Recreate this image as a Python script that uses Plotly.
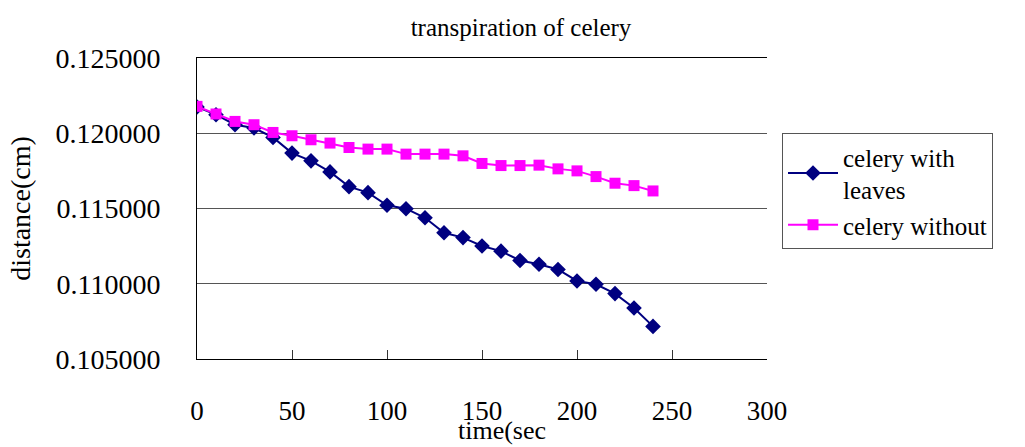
import plotly.graph_objects as go

time_sec = [0, 10, 20, 30, 40, 50, 60, 70, 80, 90, 100, 110, 120, 130, 140, 150,
            160, 170, 180, 190, 200, 210, 220, 230, 240]
with_leaves = [0.121747, 0.121233, 0.120567, 0.120347, 0.119720, 0.118680, 0.118167,
               0.117433, 0.116453, 0.116053, 0.115213, 0.114987, 0.114387, 0.113387,
               0.113067, 0.112513, 0.112167, 0.111547, 0.111300, 0.110947, 0.110187,
               0.109967, 0.109347, 0.108387, 0.107167]
without_leaves = [0.121787, 0.121280, 0.120787, 0.120567, 0.120053, 0.119833, 0.119567,
                  0.119347, 0.119053, 0.118947, 0.118947, 0.118613, 0.118613, 0.118613,
                  0.118500, 0.117993, 0.117853, 0.117853, 0.117880, 0.117633, 0.117500,
                  0.117120, 0.116680, 0.116520, 0.116167]
series_names = ["celery with<br>leaves", "celery without"]
x_title = "time(sec"

FONT = "Liberation Serif"

fig = go.Figure()
fig.add_trace(go.Scatter(
    x=time_sec, y=with_leaves, name=series_names[0], mode="lines+markers",
    line=dict(color="#000080", width=2),
    marker=dict(symbol="diamond", size=12, color="#000080"),
))
fig.add_trace(go.Scatter(
    x=time_sec, y=without_leaves, name=series_names[1], mode="lines+markers",
    line=dict(color="#FF00FF", width=2),
    marker=dict(symbol="square", size=11, color="#FF00FF"),
))

fig.update_layout(
    width=1025, height=447,
    margin=dict(l=197, r=258, t=58, b=88, autoexpand=False),
    paper_bgcolor="white", plot_bgcolor="white",
    font=dict(family=FONT, color="black"),
    title=dict(text="transpiration of celery", x=521 / 1025, xanchor="center",
               y=1 - 27 / 447, yanchor="middle",
               font=dict(size=25, family=FONT, color="black")),
    showlegend=True,
    legend=dict(x=(782 - 197) / 570, xanchor="left", y=(359 - 133) / 301, yanchor="top",
                bgcolor="white", bordercolor="#555555", borderwidth=1,
                font=dict(size=25, family=FONT, color="black"),
                itemwidth=50, tracegroupgap=0),
    annotations=[dict(text=x_title, xref="paper", yref="paper",
                      x=(502 - 197) / 570, y=(359 - 447) / 301,
                      xanchor="center", yanchor="bottom", showarrow=False,
                      font=dict(size=26, family=FONT, color="black"))],
)
fig.update_xaxes(
    range=[0, 300], dtick=50, tick0=0, automargin=False,
    showgrid=False, zeroline=False,
    showline=True, linecolor="black", linewidth=1, mirror=True,
    ticks="inside", ticklen=9, tickcolor="#333333",
    tickfont=dict(size=27, family=FONT, color="black"),
    ticklabelstandoff=28,
)
fig.update_yaxes(
    range=[0.105, 0.125], dtick=0.005, tick0=0.105, tickformat=".6f", automargin=False,
    showgrid=True, gridcolor="#555555", gridwidth=1, zeroline=False,
    showline=True, linecolor="black", linewidth=1,
    ticks="", ticklabelstandoff=30,
    tickfont=dict(size=28, family=FONT, color="black"),
    title=dict(text="distance(cm)", font=dict(size=28, family=FONT, color="black"), standoff=16),
)

fig.write_html("out.html")
